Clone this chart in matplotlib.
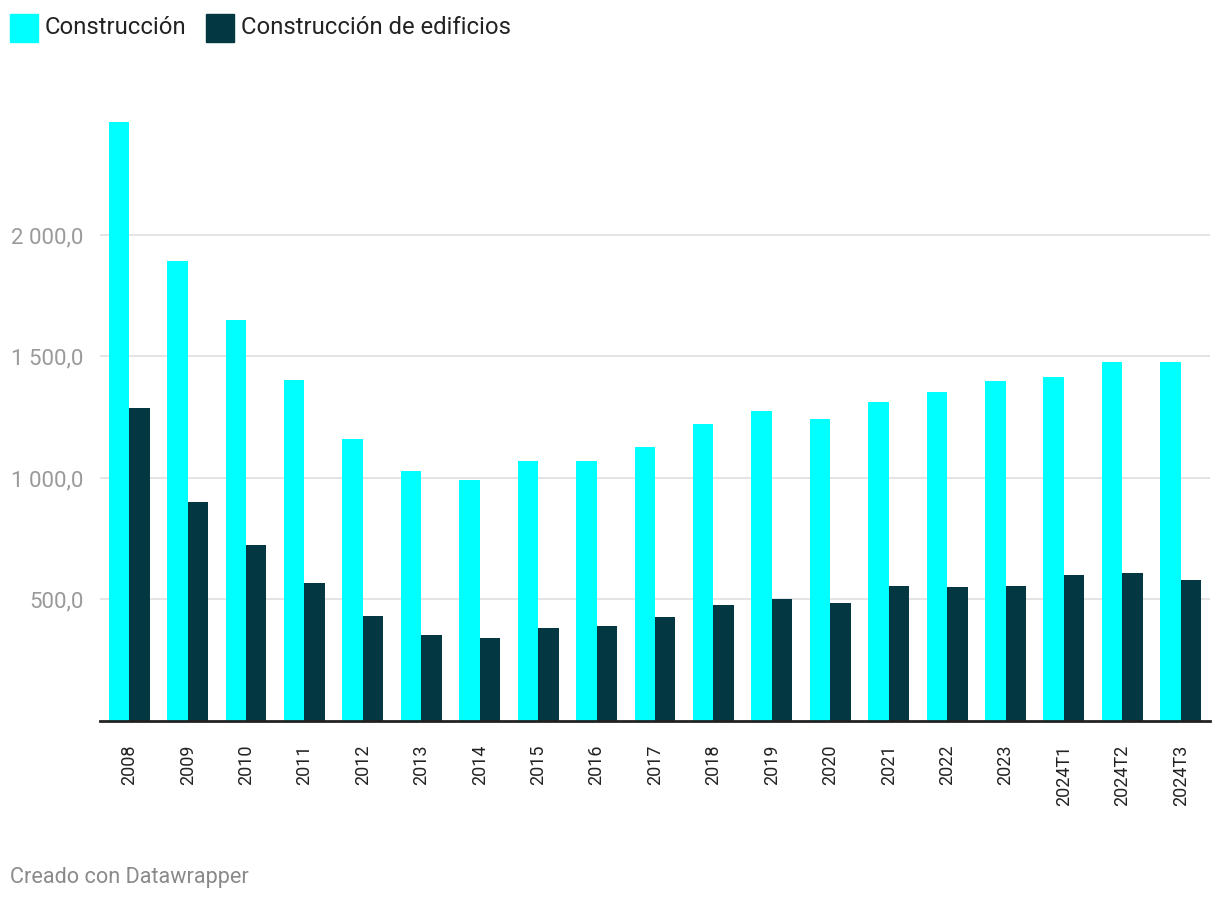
import matplotlib
matplotlib.use("Agg")
import matplotlib.pyplot as plt
import numpy as np
from matplotlib.patches import Rectangle

categories = ["2008", "2009", "2010", "2011", "2012", "2013", "2014", "2015", "2016",
              "2017", "2018", "2019", "2020", "2021", "2022", "2023", "2024T1", "2024T2", "2024T3"]
construccion = [2465, 1893, 1650, 1403, 1160, 1029, 992, 1070, 1070,
                1128, 1222, 1276, 1243, 1313, 1354, 1399, 1416, 1477, 1477]
edificios = [1288, 901, 724, 568, 432, 354, 342, 383, 391,
             428, 477, 502, 486, 556, 551, 556, 601, 609, 580]
series_names = ["Construcción", "Construcción de edificios"]
yticks = [500, 1000, 1500, 2000]
ytick_labels = ["500,0", "1 000,0", "1 500,0", "2 000,0"]

C1 = "#00ffff"
C2 = "#033843"

plt.rcParams['font.family'] = ['Roboto', 'DejaVu Sans']

W, H = 1220, 902
fig = plt.figure(figsize=(W / 100, H / 100), dpi=100)
ax = fig.add_axes([100 / W, (H - 721) / H, 1110 / W, (721 - 122) / H])

x = np.arange(len(categories))
bw = 0.35
ax.bar(x - bw / 2, construccion, width=bw, color=C1, zorder=3)
ax.bar(x + bw / 2, edificios, width=bw, color=C2, zorder=3)

ax.set_xlim(-0.5, len(categories) - 0.5)
ax.set_ylim(0, max(construccion))

for v in yticks:
    ax.axhline(v, color="#e2e2e2", lw=1.3, zorder=1)
ax.set_yticks(yticks)
ax.set_yticklabels(ytick_labels, fontsize=16, color="#9a9a9a")
ax.tick_params(axis="y", length=0, pad=12)

ax.set_xticks(x)
ax.set_xticklabels(categories, rotation=90, fontsize=13, color="#222222")
ax.tick_params(axis="x", length=0, pad=17)
for lab in ax.get_xticklabels():
    lab.set_verticalalignment("top")

for s in ["top", "right", "left"]:
    ax.spines[s].set_visible(False)
ax.spines["bottom"].set_color("#222222")
ax.spines["bottom"].set_linewidth(2)
ax.spines["bottom"].set_zorder(5)

# Legend
def px(xp, yp):
    return xp / W, 1 - yp / H

for (sx, color, name) in [(10, C1, series_names[0]), (206, C2, series_names[1])]:
    fig.patches.append(Rectangle(px(sx, 42), 28 / W, 28 / H, transform=fig.transFigure,
                                 color=color, figure=fig))
    fig.text(*px(sx + 35, 27), name, fontsize=17.2, color="#222222", va="center", ha="left")

fig.text(*px(10, 877), "Creado con Datawrapper", fontsize=15.6, color="#8a8a8a",
         va="center", ha="left")

fig.savefig("out.png", dpi=100, facecolor="white")
